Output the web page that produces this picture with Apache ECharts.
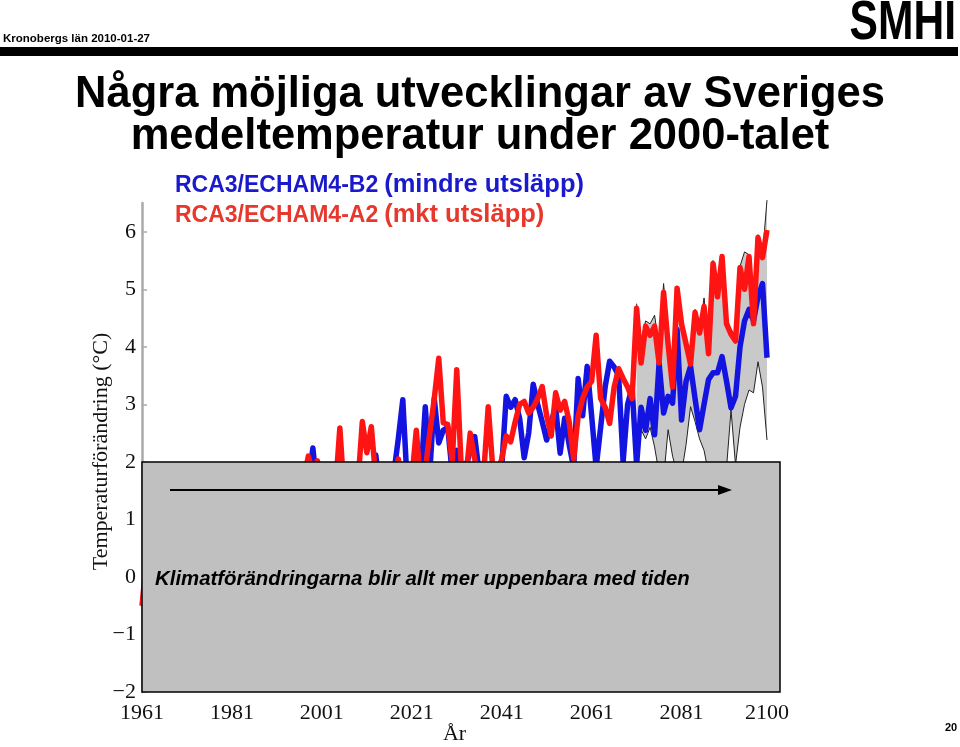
<!DOCTYPE html>
<html><head><meta charset="utf-8">
<script src="https://cdn.jsdelivr.net/npm/echarts@6/dist/echarts.min.js"></script>
<style>html,body{margin:0;padding:0;background:#fff}#c{width:960px;height:747px}</style>
</head><body><div id="c"></div>
<script>
// ---------- data ----------
const firstYear = 1961, lastYear = 2100;
const years = [];
for (let y = firstYear; y <= lastYear; y++) years.push(String(y));

const xTickLabels = ['1961','1981','2001','2021','2041','2061','2081','2100'];
const yTickValues = [-2,-1,0,1,2,3,4,5,6];

// RCA3/ECHAM4-A2 (mkt utsläpp) – red, 1961..2100
const redA2 = [
  -0.5, 0.3,-0.8, 0.5, 0.1,-0.6, 0.8, 0.2,-0.3, 0.6,
   0.0, 0.9, 0.4,-0.2, 1.0, 0.3, 0.7,-0.1, 0.5, 1.1,
   0.2, 0.8, 0.4, 1.2, 0.6, 0.0, 0.9, 1.3, 1.0, 0.5,
   1.2, 0.8, 1.4, 0.9, 1.5, 1.1, 1.7, 2.1, 1.8, 2.02,
   1.5, 1.3, 1.2, 1.5, 2.59,1.4, 1.1, 1.7, 1.6, 2.70,
   2.16,2.61,1.7, 1.2, 1.5, 1.1, 1.6, 2.05,1.5, 1.4,
   1.7, 2.55,1.6, 1.85,2.5, 3.1, 3.8, 2.68,2.65,2.0,
   3.6, 1.9, 1.7, 2.5, 2.05,1.7, 1.8, 2.96,1.9, 1.8,
   2.05,2.45,2.35,2.7, 3.0, 3.05,2.85,2.95,3.1, 3.31,
   2.8, 2.45,3.2, 2.9, 3.05,2.7, 2.05,2.8, 3.1, 3.3,
   3.4, 4.2, 3.1, 2.95,2.67,3.3, 3.62,3.45,3.3, 3.1,
   4.67,3.72,4.36,4.2, 4.36,3.72,4.95,4.05,3.3, 5.02,
   4.4, 4.05,3.7, 4.6, 4.24,4.7, 3.88,5.45,4.87,5.57,
   4.4, 4.22,4.1, 5.38,5.0, 5.57,4.4, 5.9, 5.55,6.03
];
// RCA3/ECHAM4-B2 (mindre utsläpp) – blue, 1961..2100
const blueB2 = [
  -0.45,-0.5,0.6,-0.2, 0.4, 1.0,-0.3, 0.5, 0.1, 0.8,
  -0.4, 0.6, 1.1, 0.2, 0.7,-0.1, 0.9, 0.4, 1.2, 0.3,
   0.8, 1.3, 0.5, 0.9, 1.4, 0.6, 1.0, 1.5, 0.8, 1.3,
   1.1, 1.6, 0.9, 1.4, 1.2, 1.7, 1.3, 1.6, 2.24,1.5,
   1.2, 1.7, 1.4, 1.8, 1.3, 1.6, 1.2, 1.5, 1.8, 1.4,
   1.7, 1.5, 2.12,1.4, 1.6, 1.3, 1.8, 2.4, 3.08,1.6,
   1.3, 1.9, 1.7, 2.96,1.8, 3.1, 2.33,2.55,2.6, 1.8,
   2.2, 1.7, 1.9, 2.2, 2.44,1.8, 1.5, 1.7, 1.6, 1.2,
   1.9, 3.14,2.95,3.08,2.75,2.07,2.5, 3.35,3.0, 2.7,
   2.38,2.7, 2.95,2.15,2.76,2.3, 1.9, 3.45,2.8, 3.66,
   2.8, 1.9, 2.6, 3.3, 3.75,3.65,3.5, 2.0, 3.0, 3.3,
   1.95,2.95,2.55,3.1, 2.47,3.72,2.85,3.14,3.02,4.3,
   2.73,3.4, 3.66,3.1, 2.56,3.0, 3.43,3.55,3.55,3.83,
   3.4, 2.94,3.14,4.0, 4.45,4.65,4.45,4.87,5.1, 3.81
];
// model spread (grey band), 2071..2100
const bandStartYear = 2071;
const bandUpper = [
  4.75,4.1, 4.45,4.4, 4.55,4.0, 5.1, 4.2, 3.5, 5.05,
  4.5, 4.1, 3.8, 4.65,4.3, 4.85,4.1, 5.5, 4.95,5.6,
  4.5, 4.3, 4.2, 5.4, 5.65,5.6, 4.6, 5.95,5.6, 6.55
];
const bandLower = [
  2.3, 2.56,2.4, 2.6, 2.26,1.8, 1.7, 2.56,2.1, 1.8,
  1.8, 2.3, 2.96,2.7, 2.4, 2.2, 1.8, 1.7, 1.8, 1.8,
  1.9, 2.9, 1.95,2.6, 3.0, 3.25,3.2, 3.74,3.3, 2.38
];

// ---------- chart ----------
const bandIdx = y => Number(y) - bandStartYear;
const inBand = y => Number(y) >= bandStartYear;
const bandLowFull  = years.map(y => inBand(y) ? bandLower[bandIdx(y)] : null);
const bandUpFull   = years.map(y => inBand(y) ? bandUpper[bandIdx(y)] : null);
const bandDiffFull = years.map(y => inBand(y) ? +(bandUpper[bandIdx(y)] - bandLower[bandIdx(y)]).toFixed(3) : null);

const serif = '"Liberation Serif","Times New Roman",serif';
const sans = '"Liberation Sans",Arial,Helvetica,sans-serif';

const mctx = document.createElement('canvas').getContext('2d');
const textW = (t, f) => { mctx.font = f; return mctx.measureText(t).width; };

const chart = echarts.init(document.getElementById('c'));
chart.setOption({
  animation: false,
  backgroundColor: '#ffffff',
  grid: { left: 142, right: 193, top: 203, bottom: 55, containLabel: false, outerBoundsMode: 'none' },
  xAxis: {
    type: 'category', data: years, boundaryGap: false,
    axisLine: { show: false }, axisTick: { show: false }, splitLine: { show: false },
    axisLabel: {
      interval: (i, v) => xTickLabels.indexOf(v) >= 0,
      fontFamily: serif, fontSize: 22, color: '#111', margin: 10
    },
    name: 'År', nameLocation: 'middle', nameGap: 31, nameMoveOverlap: false,
    nameTextStyle: { fontFamily: serif, fontSize: 22, color: '#111' }
  },
  yAxis: {
    type: 'value', min: -2, max: 6.5, interval: 1,
    splitLine: { show: false },
    axisLine: { show: true, lineStyle: { color: '#aaaaaa', width: 2.5 } },
    axisTick: { show: true, inside: true, length: 5, customValues: yTickValues, lineStyle: { color: '#aaaaaa', width: 1.5 } },
    axisLabel: {
      customValues: yTickValues,
      formatter: v => String(v).replace('-', '\u2212'),
      fontFamily: serif, fontSize: 22, color: '#111', margin: 6
    },
    name: 'Temperaturförändring (°C)', nameLocation: 'middle', nameRotate: 90, nameGap: 30, nameMoveOverlap: false,
    nameTextStyle: { fontFamily: serif, fontSize: 22, color: '#111', padding: [0, 8, 0, 0] }
  },
  series: [
    { name: 'bandBase', type: 'line', data: bandLowFull, stack: 'band', symbol: 'none', silent: true,
      lineStyle: { opacity: 0 }, z: 1 },
    { name: 'bandFill', type: 'line', data: bandDiffFull, stack: 'band', symbol: 'none', silent: true,
      lineStyle: { opacity: 0 }, areaStyle: { color: '#c9c9c9', opacity: 1 }, z: 1 },
    { name: 'bandLow', type: 'line', data: bandLowFull, symbol: 'none', silent: true,
      lineStyle: { color: '#222', width: 1 }, z: 2 },
    { name: 'bandUp', type: 'line', data: bandUpFull, symbol: 'none', silent: true, clip: false,
      lineStyle: { color: '#222', width: 1 }, z: 2 },
    { name: 'RCA3/ECHAM4-B2', type: 'line', data: blueB2, symbol: 'none',
      lineStyle: { color: '#1414e0', width: 5.5, join: 'round' }, z: 3 },
    { name: 'RCA3/ECHAM4-A2', type: 'line', data: redA2, symbol: 'none',
      lineStyle: { color: '#ff1414', width: 5.5, join: 'round' }, z: 4 }
  ]
});

const pTL = chart.convertToPixel({ xAxisIndex: 0, yAxisIndex: 0 }, [0, 2]);
const pBR = chart.convertToPixel({ xAxisIndex: 0, yAxisIndex: 0 }, [years.length - 1, -2]);

const subFont1 = 'bold 23px ' + sans, subFont2 = 'bold 25.5px ' + sans;
const sub2X = 175 + textW('RCA3/ECHAM4-B2', subFont1) + 6;
const ctr = { textAlign: 'center', align: 'center', textVerticalAlign: 'middle', verticalAlign: 'middle' };
const lft = { textVerticalAlign: 'middle', verticalAlign: 'middle' };

chart.setOption({
  graphic: [
    // header
    { type: 'text', z: 100, style: Object.assign({ text: 'Kronobergs län 2010-01-27', x: 3, y: 39, font: 'bold 11.5px ' + sans, fill: '#000' }, lft) },
    { type: 'text', z: 100, x: 956, y: 24, scaleX: 0.76, style: { text: 'SMHI', x: 0, y: 0, font: 'bold 56px ' + sans, fill: '#000', textAlign: 'right', align: 'right', textVerticalAlign: 'middle', verticalAlign: 'middle' } },
    { type: 'rect', z: 100, shape: { x: 0, y: 47, width: 958, height: 9 }, style: { fill: '#000' } },
    // title
    { type: 'text', z: 100, style: Object.assign({ text: 'Några möjliga utvecklingar av Sveriges', x: 480, y: 95, font: 'bold 43.5px ' + sans, fill: '#000' }, ctr) },
    { type: 'text', z: 100, style: Object.assign({ text: 'medeltemperatur under 2000-talet', x: 480, y: 137, font: 'bold 43.5px ' + sans, fill: '#000' }, ctr) },
    // subtitles
    { type: 'text', z: 100, style: Object.assign({ text: 'RCA3/ECHAM4-B2', x: 175, y: 186, font: subFont1, fill: '#1a1acc' }, lft) },
    { type: 'text', z: 100, style: Object.assign({ text: '(mindre utsläpp)', x: sub2X, y: 185, font: subFont2, fill: '#1a1acc' }, lft) },
    { type: 'text', z: 100, style: Object.assign({ text: 'RCA3/ECHAM4-A2', x: 175, y: 216, font: subFont1, fill: '#e8372c' }, lft) },
    { type: 'text', z: 100, style: Object.assign({ text: '(mkt utsläpp)', x: sub2X, y: 215, font: subFont2, fill: '#e8372c' }, lft) },
    // grey overlay box
    { type: 'rect', z: 100, shape: { x: pTL[0], y: pTL[1], width: pBR[0] - pTL[0] + 13, height: pBR[1] - pTL[1] }, style: { fill: '#c0c0c0', stroke: '#000', lineWidth: 1.5 } },
    { type: 'line', z: 101, shape: { x1: 170, y1: 490, x2: 722, y2: 490 }, style: { stroke: '#000', lineWidth: 2 } },
    { type: 'polygon', z: 101, shape: { points: [[718, 485], [732, 490], [718, 495]] }, style: { fill: '#000' } },
    { type: 'text', z: 101, style: Object.assign({ text: 'Klimatförändringarna blir allt mer uppenbara med tiden', x: 155, y: 579, font: 'italic bold 20.4px ' + sans, fill: '#000' }, lft) },
    // page number
    { type: 'text', z: 100, style: Object.assign({ text: '20', x: 951, y: 728, font: 'bold 11px ' + sans, fill: '#000' }, ctr) }
  ]
});
</script>
</body></html>
